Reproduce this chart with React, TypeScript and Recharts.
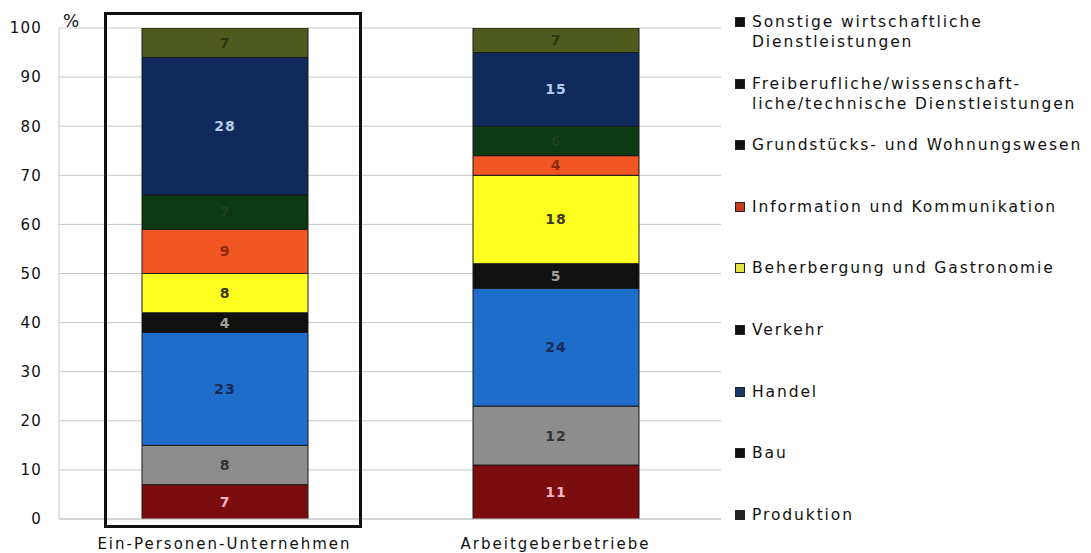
import React from 'react';
import { BarChart, Bar, XAxis, YAxis, CartesianGrid, LabelList } from 'recharts';

const categories = ['Ein-Personen-Unternehmen', 'Arbeitgeberbetriebe'];
const sectors = [
  'Produktion',
  'Bau',
  'Handel',
  'Verkehr',
  'Beherbergung und Gastronomie',
  'Information und Kommunikation',
  'Grundstücks- und Wohnungswesen',
  'Freiberufliche/wissenschaft-\nliche/technische Dienstleistungen',
  'Sonstige wirtschaftliche\nDienstleistungen',
];
const einPersonen = [7, 8, 23, 4, 8, 9, 7, 28, 7];
const arbeitgeber = [11, 12, 24, 5, 18, 4, 6, 15, 7];
const sectorColors = ['#7b0d0f', '#8d8d8d', '#1f6dcb', '#111111', '#ffff22', '#f25622', '#0b3a12', '#102a5e', '#4e5a1e'];
const labelColors = ['#f2b8c4', '#333333', '#1a2a52', '#a0a0a0', '#3a3a18', '#8a2a10', '#1f3f1f', '#b4cbe8', '#2c3410'];
const legendMarkers = ['#222222', '#111111', '#1a3a6a', '#111111', '#e4e440', '#c83a20', '#111111', '#111111', '#111111'];
const yTicks = [0, 10, 20, 30, 40, 50, 60, 70, 80, 90, 100];

const seriesValues = [einPersonen, arbeitgeber];
const data = categories.map((name, ci) => {
  const row: Record<string, string | number> = { name };
  sectors.forEach((_, si) => {
    row['s' + si] = seriesValues[ci][si];
  });
  return row;
});

const FONT = '"DejaVu Sans", Verdana, sans-serif';

export default function App() {
  const legendOrder = sectors.map((s, i) => ({ s, i })).reverse();
  return (
    <div style={{ position: 'relative', width: 1083, height: 545, fontFamily: FONT }}>
      <BarChart
        width={1083}
        height={545}
        data={data}
        margin={{ top: 20, right: 370, bottom: 4, left: 0 }}
      >
        <CartesianGrid vertical={false} stroke="#c8c8c8" />
        <XAxis
          dataKey="name"
          height={30}
          tickLine={false}
          axisLine={{ stroke: '#c8c8c8' }}
          tickMargin={13}
          tick={{ fontSize: 15, fill: '#111', fontFamily: FONT, letterSpacing: 2 }}
        />
        <YAxis
          width={51}
          domain={[0, 100]}
          ticks={yTicks}
          allowDataOverflow
          tickLine={false}
          axisLine={{ stroke: '#c8c8c8' }}
          tickMargin={11}
          tick={{ fontSize: 15, fill: '#111', fontFamily: FONT, letterSpacing: 1.2 }}
        />
        {sectors.map((s, i) => (
          <Bar
            key={s}
            dataKey={'s' + i}
            name={s}
            stackId="a"
            fill={sectorColors[i]}
            stroke="#1a1a1a"
            strokeWidth={1}
            barSize={166}
            isAnimationActive={false}
          >
            <LabelList
              dataKey={'s' + i}
              position="center"
              fill={labelColors[i]}
              style={{ fontSize: 14, fontWeight: 'bold', fontFamily: FONT, letterSpacing: 1 }}
            />
          </Bar>
        ))}
      </BarChart>

      <div
        style={{
          position: 'absolute',
          left: 96,
          top: 4,
          width: 258,
          height: 516,
          border: '3px solid #111',
          boxSizing: 'border-box',
          pointerEvents: 'none',
        }}
      />

      <div style={{ position: 'absolute', left: 55, top: 3, fontSize: 17, color: '#111' }}>%</div>

      <div style={{ position: 'absolute', left: 727, top: 4, width: 356 }}>
        {legendOrder.map(({ s, i }) => (
          <div key={s} style={{ position: 'relative', height: 61.6 }}>
            <div
              style={{
                position: 'absolute',
                left: 0,
                top: 5,
                width: 10,
                height: 10,
                background: legendMarkers[i],
                border: '1px solid #222',
                boxSizing: 'border-box',
              }}
            />
            <div
              style={{
                position: 'absolute',
                left: 17,
                top: 0,
                fontSize: 15.5,
                lineHeight: '20px',
                letterSpacing: 1.9,
                whiteSpace: 'pre-line',
                color: '#111',
              }}
            >
              {s}
            </div>
          </div>
        ))}
      </div>
    </div>
  );
}
